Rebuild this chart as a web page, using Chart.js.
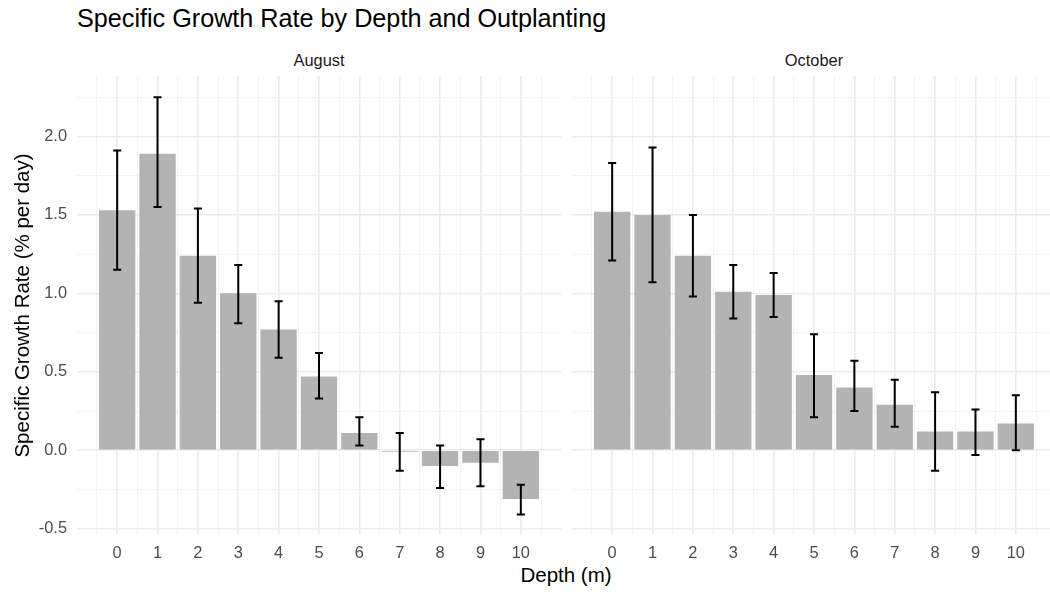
<!DOCTYPE html>
<html>
<head>
<meta charset="utf-8">
<script src="https://cdn.jsdelivr.net/npm/chart.js@4.4.1/dist/chart.umd.min.js"></script>
<style>
    html, body {
        margin: 0;
        padding: 0;
        width: 1050px;
        height: 596px;
        overflow: hidden;
        background: #fff;
        font-family: "Liberation Sans", Arial, sans-serif;
    }
    .panel { position: absolute; top: 0; height: 596px; }
    .txt { position: absolute; white-space: nowrap; line-height: 1; }
    #title { left: 77px; top: 6px; font-size: 25.2px; color: #000; }
    .strip { top: 52px; font-size: 16.4px; color: #1a1a1a; transform: translateX(-50%); }
    #xtitle { left: 566px; top: 565px; font-size: 20.5px; color: #000; transform: translateX(-50%); }
</style>
</head>
<body>
<div class="txt" id="title">Specific Growth Rate by Depth and Outplanting</div>
<div class="txt strip" style="left:319px">August</div>
<div class="txt strip" style="left:814px">October</div>
<div class="txt" id="xtitle">Depth (m)</div>

<div class="panel" style="left:0;width:566px"><canvas id="aug" width="566" height="596"></canvas></div>
<div class="panel" style="left:566px;width:495px"><canvas id="oct" width="495" height="596"></canvas></div>

<script>
const depths = [0, 1, 2, 3, 4, 5, 6, 7, 8, 9, 10];

const augMean  = [1.53, 1.89, 1.24, 1.00, 0.77, 0.47, 0.11, -0.01, -0.10, -0.08, -0.31];
const augLower = [1.15, 1.55, 0.94, 0.81, 0.59, 0.33, 0.03, -0.13, -0.24, -0.23, -0.41];
const augUpper = [1.91, 2.25, 1.54, 1.18, 0.95, 0.62, 0.21, 0.11, 0.03, 0.07, -0.22];

const octMean  = [1.52, 1.50, 1.24, 1.01, 0.99, 0.48, 0.40, 0.29, 0.12, 0.12, 0.17];
const octLower = [1.21, 1.07, 0.98, 0.84, 0.85, 0.21, 0.25, 0.15, -0.13, -0.03, 0.00];
const octUpper = [1.83, 1.93, 1.50, 1.18, 1.13, 0.74, 0.57, 0.45, 0.37, 0.26, 0.35];

const yTicks = [-0.5, -0.25, 0, 0.25, 0.5, 0.75, 1, 1.25, 1.5, 1.75, 2, 2.25];
const xMinorTicks = [-0.5, 0.5, 1.5, 2.5, 3.5, 4.5, 5.5, 6.5, 7.5, 8.5, 9.5, 10.5];

const major = '#ebebeb';
const minor = '#f2f2f2';

const isMajorY = (c) => c.tick ? Number.isInteger(c.tick.value * 2) : true;

// error bars drawn with the chart's own scales
const errorBars = {
    id: 'errorBars',
    afterDatasetsDraw(chart, args, opts) {
        const { ctx, scales: { x, y } } = chart;
        ctx.save();
        ctx.strokeStyle = '#000';
        ctx.lineWidth = 2;
        depths.forEach((d, i) => {
            const px = x.getPixelForValue(d);
            const half = x.getPixelForValue(d + 0.1) - px;
            const top = y.getPixelForValue(opts.upper[i]);
            const bot = y.getPixelForValue(opts.lower[i]);
            ctx.beginPath();
            ctx.moveTo(px, top); ctx.lineTo(px, bot);
            ctx.moveTo(px - half, top); ctx.lineTo(px + half, top);
            ctx.moveTo(px - half, bot); ctx.lineTo(px + half, bot);
            ctx.stroke();
        });
        ctx.restore();
    }
};

function makePanel(id, mean, lower, upper, isLeft) {
    new Chart(document.querySelector(id), {
        type: 'bar',
        data: {
            datasets: [{
                data: depths.map((d, i) => ({ x: d, y: mean[i] })),
                backgroundColor: '#b3b3b3',
                borderWidth: 0,
                barPercentage: 0.9,
                categoryPercentage: 1.0
            }]
        },
        options: {
            responsive: false,
            animation: false,
            layout: { padding: { top: 76, right: 5, bottom: 0, left: isLeft ? 0 : 6 } },
            plugins: {
                legend: { display: false },
                tooltip: { enabled: false },
                errorBars: { lower: lower, upper: upper }
            },
            scales: {
                x: {
                    type: 'linear',
                    min: -0.995,
                    max: 10.995,
                    offset: false,
                    afterBuildTicks: (scale) => { scale.ticks = depths.map(v => ({ value: v })); },
                    afterFit: (scale) => { scale.height = 61; },
                    border: { display: false },
                    grid: { drawTicks: false, offset: false, color: major, lineWidth: 1.6 },
                    ticks: {
                        autoSkip: false,
                        maxRotation: 0,
                        padding: 9,
                        color: '#4d4d4d',
                        font: { family: 'Liberation Sans', size: 16.4 }
                    }
                },
                // second x scale only for the minor vertical grid lines
                xMinor: {
                    type: 'linear',
                    position: 'bottom',
                    min: -0.995,
                    max: 10.995,
                    offset: false,
                    afterBuildTicks: (scale) => { scale.ticks = xMinorTicks.map(v => ({ value: v })); },
                    afterFit: (scale) => { scale.height = 0; },
                    border: { display: false },
                    grid: { drawTicks: false, offset: false, color: minor, lineWidth: 0.9 },
                    ticks: { display: false }
                },
                y: {
                    min: -0.54,
                    max: 2.385,
                    afterBuildTicks: (scale) => { scale.ticks = yTicks.map(v => ({ value: v })); },
                    afterFit: (scale) => { scale.width = isLeft ? 77 : 0; },
                    border: { display: false },
                    grid: {
                        drawTicks: false,
                        color: (c) => isMajorY(c) ? major : minor,
                        lineWidth: (c) => isMajorY(c) ? 1.6 : 0.9
                    },
                    ticks: {
                        display: isLeft,
                        padding: 10,
                        color: '#4d4d4d',
                        font: { family: 'Liberation Sans', size: 16.4 },
                        callback: (v) => Number.isInteger(v * 2) ? v.toFixed(1) : ''
                    },
                    title: {
                        display: isLeft,
                        text: 'Specific Growth Rate (% per day)',
                        color: '#000',
                        padding: { top: 11, bottom: 0 },
                        font: { family: 'Liberation Sans', size: 20.5 }
                    }
                }
            }
        },
        plugins: [errorBars]
    });
}

makePanel('#aug', augMean, augLower, augUpper, true);
makePanel('#oct', octMean, octLower, octUpper, false);
</script>
</body>
</html>
